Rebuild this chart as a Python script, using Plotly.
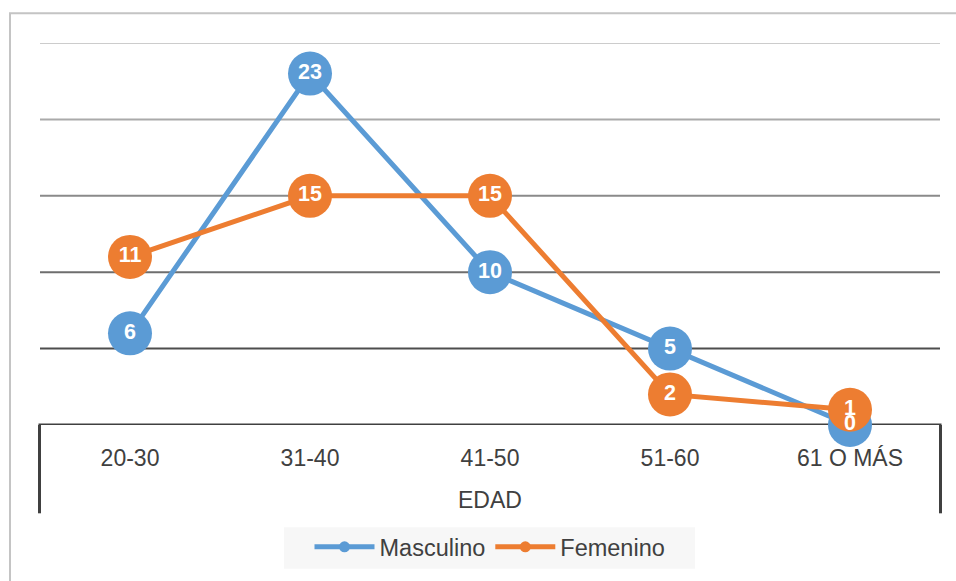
import plotly.graph_objects as go

categorias = ["20-30", "31-40", "41-50", "51-60", "61 O MÁS"]
masculino = [6, 23, 10, 5, 0]
femenino = [11, 15, 15, 2, 1]
eje_x_titulo = "EDAD"

azul = "#5B9BD5"
naranja = "#ED7D31"
texto = "#404040"
fuente = "Liberation Sans, Arial, sans-serif"

W, H = 956, 581
L, R, T, B = 40, 16, 43, 153
pw, ph = W - L - R, H - T - B

def px(x):
    return (x - L) / pw

def py(y):
    return (H - B - y) / ph

fig = go.Figure()

for nombre, vals, color in [("Masculino", masculino, azul), ("Femenino", femenino, naranja)]:
    fig.add_trace(go.Scatter(
        x=categorias, y=vals, mode="lines+markers", name=nombre,
        line=dict(color=color, width=5),
        marker=dict(color=color, size=44),
        showlegend=False, cliponaxis=False, hoverinfo="x+y+name",
    ))

for vals in [masculino, femenino]:
    fig.add_trace(go.Scatter(
        x=categorias, y=vals, mode="text", text=[str(v) for v in vals],
        textposition="middle center",
        textfont=dict(color="white", size=21.5, family=fuente, weight="bold"),
        showlegend=False, cliponaxis=False, hoverinfo="skip",
    ))

for nombre, color in [("Masculino", azul), ("Femenino", naranja)]:
    fig.add_trace(go.Scatter(
        x=[None], y=[None], mode="lines+markers", name=nombre,
        line=dict(color=color, width=5), marker=dict(color=color, size=11),
    ))

shapes = []
# outer border
shapes.append(dict(type="rect", xref="paper", yref="paper",
                   x0=px(10), x1=px(960), y0=py(600), y1=py(13),
                   line=dict(color="#C4C4C4", width=2), layer="below"))
# legend background
shapes.append(dict(type="rect", xref="paper", yref="paper",
                   x0=px(284), x1=px(695), y0=py(573), y1=py(531),
                   fillcolor="#F7F7F7", line=dict(width=0), layer="below"))
# graded gridlines
grid_cols = {25: "#CCCCCC", 20: "#AAAAAA", 15: "#8A8A8A", 10: "#6E6E6E", 5: "#4D4D4D"}
for v, c in grid_cols.items():
    shapes.append(dict(type="line", xref="paper", yref="y", x0=0, x1=1, y0=v, y1=v,
                       line=dict(color=c, width=2), layer="below"))
# axis line and category box
shapes.append(dict(type="line", xref="paper", yref="y", x0=px(38.5), x1=px(941.5), y0=0, y1=0,
                   line=dict(color=texto, width=3), layer="below"))
for xx in [39.5, 940.5]:
    shapes.append(dict(type="line", xref="paper", yref="paper", x0=px(xx), x1=px(xx),
                       y0=py(517), y1=py(428),
                       line=dict(color=texto, width=3), layer="below"))

fig.update_layout(
    width=W, height=H,
    margin=dict(l=L, r=R, t=T, b=B),
    paper_bgcolor="white", plot_bgcolor="white",
    font=dict(family=fuente, color=texto, size=23),
    showlegend=True,
    legend=dict(orientation="h", x=0.5, xanchor="center", y=py(551), yanchor="middle",
                bgcolor="rgba(0,0,0,0)", font=dict(size=23.5, color=texto),
                itemwidth=60, traceorder="normal"),
    xaxis=dict(type="category", categoryorder="array", categoryarray=categorias,
               range=[-0.5, 4.5], showgrid=False, zeroline=False, showline=False,
               ticks="outside", ticklen=12, tickcolor="rgba(0,0,0,0)",
               tickfont=dict(size=23, color=texto, family=fuente)),
    yaxis=dict(range=[0, 25], showgrid=False, zeroline=False, showline=False,
               showticklabels=False, ticks=""),
    shapes=shapes,
    annotations=[dict(text=eje_x_titulo, xref="paper", yref="paper", x=0.5, y=py(504),
                      xanchor="center", yanchor="middle", showarrow=False,
                      font=dict(size=23, color=texto, family=fuente))],
)

fig.write_html("out.html")
